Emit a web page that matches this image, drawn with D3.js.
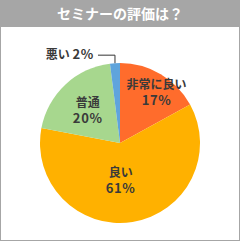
<!DOCTYPE html>
<html>
<head>
<meta charset="utf-8">
<script src="https://cdn.jsdelivr.net/npm/d3@7"></script>
<style>
  body { margin: 0; background: #fff; }
  svg { display: block; font-family: "Noto Sans CJK JP", "Noto Sans", sans-serif; }
</style>
</head>
<body>
<div id="chart"></div>
<script>
// data
var title = "セミナーの評価は？";
var categories = ["非常に良い", "良い", "普通", "悪い"];
var values = [17, 61, 20, 2];
var colors = ["#ff6c2c", "#ffb100", "#a7d78e", "#5fa4dc"];

var width = 240, height = 243;
var cx = 120, cy = 143, radius = 80;

var svg = d3.select("#chart").append("svg")
  .attr("width", width)
  .attr("height", height);

// frame + header
svg.append("rect")
  .attr("x", 0.5).attr("y", 0.5)
  .attr("width", width - 1).attr("height", height - 3)
  .style("fill", "#fff")
  .style("stroke", "#a6a6a6");
svg.append("rect")
  .attr("x", 0).attr("y", 0)
  .attr("width", width).attr("height", 27)
  .style("fill", "#a6a6a6");
svg.append("text")
  .attr("x", width / 2).attr("y", 18.5)
  .attr("text-anchor", "middle")
  .style("fill", "#fff")
  .style("font-size", "14px")
  .style("font-weight", "bold")
  .text(title);

var data = categories.map(function(c, i) { return {name: c, value: values[i], color: colors[i]}; });

var pie = d3.pie()
  .sort(null)
  .value(function(d) { return d.value; });
var arc = d3.arc().innerRadius(0).outerRadius(radius);

var g = svg.append("g").attr("transform", "translate(" + cx + "," + cy + ")");
var arcs = pie(data);

g.selectAll("path")
  .data(arcs)
  .enter().append("path")
  .attr("d", arc)
  .style("fill", function(d) { return d.data.color; });

// label placement (radius factor + small nudge per slice)
var labelR = [0.75, 0.45, 0.59];
var labelDx = [6, -5, 0];

arcs.forEach(function(d, i) {
  if (i == 3) return;
  var a = (d.startAngle + d.endAngle) / 2;
  var r = radius * labelR[i];
  var px = Math.sin(a) * r + labelDx[i], py = -Math.cos(a) * r;
  var t = g.append("text")
    .attr("text-anchor", "middle")
    .style("fill", "#3a3a3a")
    .style("font-size", "12px")
    .style("font-weight", "bold");
  t.append("tspan").attr("x", px).attr("y", py - 2).text(d.data.name);
  t.append("tspan").attr("x", px).attr("y", py + 14)
    .style("font-size", "13px")
    .style("letter-spacing", "0.6px")
    .text(d.data.value + "%");
});

// leader line for the small slice
var small = arcs[3];
var a = (small.startAngle + small.endAngle) / 2;
var ex = Math.sin(a) * radius, ey = -Math.cos(a) * radius;
g.append("polyline")
  .attr("points", [[ex, ey], [ex, ey - 8], [ex - 17, ey - 8]].map(function(p) { return p.join(","); }).join(" "))
  .style("fill", "none")
  .style("stroke", "#333")
  .style("stroke-width", 1);
var lbl = g.append("text")
  .attr("x", ex - 21).attr("y", ey - 4)
  .attr("text-anchor", "end")
  .style("fill", "#3a3a3a")
  .style("font-size", "12px")
  .style("font-weight", "bold");
lbl.append("tspan").text(small.data.name + " ");
lbl.append("tspan").style("font-size", "13px").style("letter-spacing", "0.6px").text(small.data.value + "%");
</script>
</body>
</html>
